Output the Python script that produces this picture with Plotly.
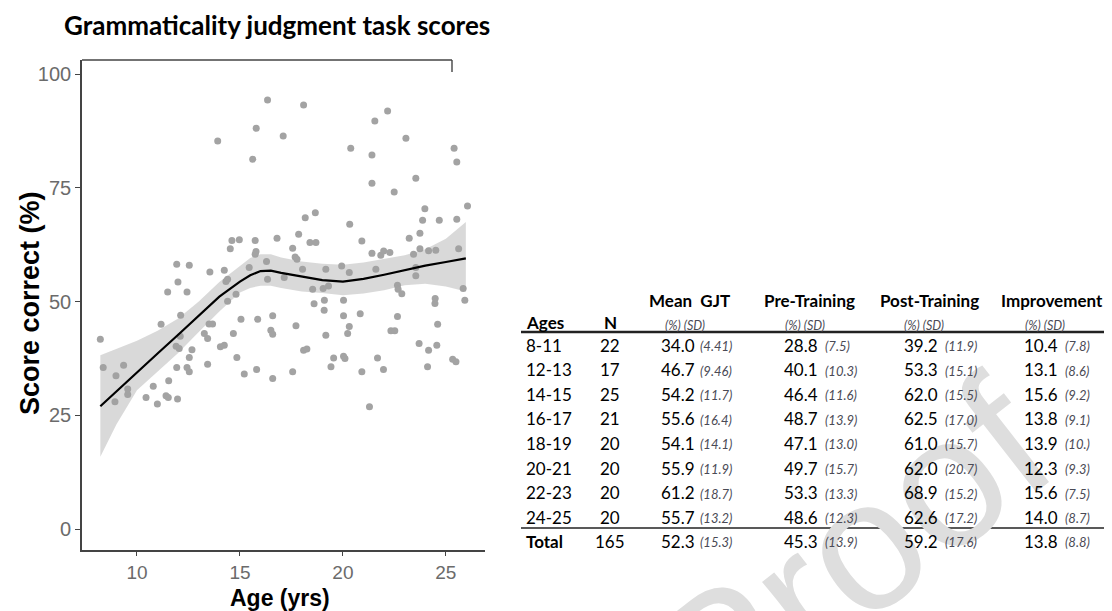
import plotly.graph_objects as go

# ---------------- data ----------------
age = [8.22, 8.36, 8.98, 9.35, 8.93, 9.55, 9.55, 10.44, 10.79, 10.99, 11.41, 11.52, 11.54, 11.17,
       11.49, 11.93, 11.99, 11.97, 11.93, 11.90, 12.05, 12.10, 12.12, 12.43, 12.54, 12.43, 12.54,
       12.54, 12.67, 13.27, 13.43, 13.50, 13.67, 13.43, 13.54, 13.92, 14.05, 14.24, 14.68, 14.40,
       14.85, 15.05, 15.21, 15.86, 15.81, 16.59, 16.50, 16.59, 16.59, 17.56, 17.72, 18.09, 18.25,
       18.60, 19.10, 19.09, 19.17, 19.42, 19.55, 20.03, 20.03, 20.03, 20.10, 20.23, 20.31, 20.84,
       20.92, 21.29, 21.68, 21.97, 22.33, 22.52, 22.65, 23.70, 24.16, 24.11, 24.47, 24.56, 24.60,
       25.33, 25.49, 25.92, 16.34, 18.09, 15.79, 17.10, 15.62, 20.38, 18.17, 18.66, 20.33, 14.61,
       14.97, 14.53, 15.74, 16.80, 17.85, 18.40, 18.69, 15.78, 15.74, 17.56, 17.68, 17.77, 14.24,
       16.29, 15.45, 14.40, 14.32, 16.34, 17.15, 18.04, 19.17, 19.94, 20.31, 14.81, 18.53, 19.04,
       19.30, 22.17, 21.55, 23.06, 21.41, 25.40, 25.53, 21.41, 23.54, 22.49, 23.98, 23.87, 24.68,
       25.53, 26.05, 20.92, 23.22, 23.74, 21.41, 21.84, 21.98, 22.28, 23.43, 23.74, 24.16, 24.51,
       25.62, 21.60, 23.54, 23.54, 22.65, 22.68, 22.86, 25.84, 24.48]
score = [41.7, 35.5, 33.7, 36.0, 28.0, 30.8, 29.6, 28.9, 31.4, 27.5, 29.3, 28.9, 32.6, 45.0,
         52.1, 58.2, 54.3, 28.6, 35.5, 40.2, 39.7, 42.4, 47.0, 52.1, 58.0, 35.5, 34.6,
         37.7, 39.4, 43.0, 41.9, 45.1, 45.1, 36.2, 56.5, 85.3, 40.1, 40.4, 43.0, 50.1,
         37.7, 46.1, 34.1, 46.1, 35.1, 46.9, 43.7, 42.8, 33.1, 34.6, 44.7, 39.3, 39.6,
         49.5, 50.3, 48.1, 42.6, 35.7, 37.6, 50.3, 46.9, 38.0, 37.5, 43.0, 44.5, 47.3,
         34.6, 26.9, 37.6, 35.1, 43.6, 43.6, 46.7, 40.8, 39.3, 35.7, 49.6, 40.4, 45.0,
         37.3, 36.8, 50.3, 94.3, 93.2, 88.1, 86.4, 81.3, 83.7, 68.4, 69.5, 67.0, 63.4,
         63.6, 61.6, 63.4, 63.9, 64.8, 63.0, 63.0, 61.0, 60.4, 61.7, 59.8, 59.3, 56.9,
         58.8, 57.5, 54.9, 54.4, 54.9, 55.3, 57.1, 57.1, 57.8, 56.4, 51.6, 52.7, 52.9,
         53.4, 91.9, 89.7, 85.9, 82.2, 83.7, 80.7, 76.0, 77.1, 74.1, 70.4, 67.9, 67.9,
         68.1, 71.0, 63.3, 63.9, 65.0, 60.6, 60.2, 61.1, 60.8, 60.4, 61.6, 61.2, 61.3,
         61.6, 57.1, 57.5, 55.7, 53.6, 52.7, 51.7, 52.9, 50.7]

# smoothed curve and its confidence band
smooth_age = [8.22, 9, 10, 11, 12, 13, 14, 15, 15.5, 16, 16.5, 17, 18, 19, 20, 21, 22, 23, 24, 25, 25.97]
smooth_fit = [27.0, 30.3, 34.4, 38.6, 42.7, 46.9, 51.1, 54.4, 55.8, 56.7, 56.8, 56.3, 55.5, 54.7, 54.4,
              55.0, 55.9, 56.9, 57.9, 58.7, 59.5]
smooth_hi = [38.2, 39.6, 41.4, 43.6, 46.3, 50.0, 54.3, 57.8, 59.6, 60.4, 60.4, 59.7, 58.8, 58.3, 58.1,
             58.6, 59.4, 60.2, 61.5, 63.8, 67.5]
smooth_lo = [15.9, 23.0, 30.5, 34.5, 38.7, 43.3, 47.8, 52.0, 53.0, 53.5, 53.5, 53.0, 52.2, 51.9, 51.4,
             51.8, 52.5, 53.6, 53.9, 53.3, 52.2]

y_ticks = [0, 25, 50, 75, 100]
x_ticks = [10, 15, 20, 25]

# table
age_groups = ["8-11", "12-13", "14-15", "16-17", "18-19", "20-21", "22-23", "24-25"]
n_group = [22, 17, 25, 21, 20, 20, 20, 20]
mean_gjt = ["34.0", "46.7", "54.2", "55.6", "54.1", "55.9", "61.2", "55.7"]
mean_sd = ["4.41", "9.46", "11.7", "16.4", "14.1", "11.9", "18.7", "13.2"]
pre_train = ["28.8", "40.1", "46.4", "48.7", "47.1", "49.7", "53.3", "48.6"]
pre_sd = ["7.5", "10.3", "11.6", "13.9", "13.0", "15.7", "13.3", "12.3"]
post_train = ["39.2", "53.3", "62.0", "62.5", "61.0", "62.0", "68.9", "62.6"]
post_sd = ["11.9", "15.1", "15.5", "17.0", "15.7", "20.7", "15.2", "17.2"]
improvement = ["10.4", "13.1", "15.6", "13.8", "13.9", "12.3", "15.6", "14.0"]
impr_sd = ["7.8", "8.6", "9.2", "9.1", "10.", "9.3", "7.5", "8.7"]
total_n = "165"
total_vals = ["52.3", "45.3", "59.2", "13.8"]
total_sds = ["15.3", "13.9", "17.6", "8.8"]
col_headers = ["Mean  GJT", "Pre-Training", "Post-Training", "Improvement"]

# ---------------- layout helpers ----------------
# page body has an 8px margin, so the figure is drawn 8px smaller and offset
OFF = 8
W_REF, H_REF = 1112, 611
L, R, T, B = 82, 485, 60, 550   # plot area in reference pixels


def fx(p):
    return (p - L) / (R - L)


def fy(p):
    return (B - p) / (B - T)


FONT_T = "Lato"
fig = go.Figure()

fig.add_trace(go.Scatter(x=age, y=score, mode="markers",
                         marker=dict(size=7, color="#a3a3a3"), hoverinfo="skip", showlegend=False))
fig.add_trace(go.Scatter(x=smooth_age, y=smooth_lo, mode="lines", line=dict(width=0),
                         hoverinfo="skip", showlegend=False))
fig.add_trace(go.Scatter(x=smooth_age, y=smooth_hi, mode="lines", line=dict(width=0),
                         fill="tonexty", fillcolor="rgba(160,160,160,0.4)",
                         hoverinfo="skip", showlegend=False))
fig.add_trace(go.Scatter(x=smooth_age, y=smooth_fit, mode="lines",
                         line=dict(color="black", width=2.2), hoverinfo="skip", showlegend=False))

ann = []
# watermark
ann.append(dict(text="Proof", xref="paper", yref="paper", x=fx(850), y=fy(556),
                xanchor="center", yanchor="middle", showarrow=False, textangle=-38,
                font=dict(family="Liberation Sans", size=185, color="#dedede")))

# title
ann.append(dict(text="<b>Grammaticality judgment task scores</b>", xref="paper", yref="paper",
                x=fx(62), y=fy(25), xanchor="left", yanchor="middle", showarrow=False,
                font=dict(family=FONT_T, size=26, color="black")))
# axis titles
ann.append(dict(text="<b>Age (yrs)</b>", xref="paper", yref="paper", x=fx(280), y=fy(598),
                xanchor="center", yanchor="middle", showarrow=False,
                font=dict(family="Liberation Sans", size=23, color="black")))
ann.append(dict(text="<b>Score correct (%)</b>", xref="paper", yref="paper", x=fx(30), y=fy(303),
                xanchor="center", yanchor="middle", showarrow=False, textangle=-90,
                font=dict(family="Liberation Sans", size=27, color="black")))

# table
hdr_centers = [689, 809, 929, 1052]
val_x = [659, 782, 902, 1022]
sd_x = [698, 823, 943, 1063]
pct_x = [663, 783, 902, 1023]
FS = 17
FS_SD = 13
SD_COL = "#4a4a55"


def t(text, x, y, anchor="left", size=FS, color="black", bold=False, italic=False):
    s = text
    if bold:
        s = "<b>" + s + "</b>"
    if italic:
        s = "<i>" + s + "</i>"
    ann.append(dict(text=s, xref="paper", yref="paper", x=fx(x), y=fy(y), xanchor=anchor,
                    yanchor="middle", showarrow=False,
                    font=dict(family=FONT_T, size=size, color=color)))


for h, cx in zip(col_headers, hdr_centers):
    t(h, cx, 300, anchor="center", bold=True, size=17)
t("Ages", 524, 322, bold=True, size=17)
t("N", 610, 322, anchor="center", bold=True, size=17)
for px_ in pct_x:
    t("(%) (SD)", px_, 325, size=12.5, color=SD_COL, italic=True)

row_y = [345 + i * 24.6 for i in range(len(age_groups))]
cols = [(mean_gjt, mean_sd), (pre_train, pre_sd), (post_train, post_sd), (improvement, impr_sd)]
for i, y in enumerate(row_y):
    t(age_groups[i], 524, y)
    t(str(n_group[i]), 610, y, anchor="center")
    for j, (vals, sds) in enumerate(cols):
        t(vals[i], val_x[j], y)
        t("(" + sds[i] + ")", sd_x[j], y + 1, size=FS_SD, color=SD_COL, italic=True)

yt = 541
t("Total", 524, yt, bold=True)
t(total_n, 610, yt, anchor="center")
for j in range(4):
    t(total_vals[j], val_x[j], yt)
    t("(" + total_sds[j] + ")", sd_x[j], yt + 1, size=FS_SD, color=SD_COL, italic=True)

shapes = [
    dict(type="line", xref="paper", yref="paper", x0=fx(521), x1=fx(1112), y0=fy(332), y1=fy(332),
         line=dict(color="#222", width=2.6)),
    dict(type="line", xref="paper", yref="paper", x0=fx(521), x1=fx(1112), y0=fy(528), y1=fy(528),
         line=dict(color="#222", width=1.6)),
    # partial frame at top of panel
    dict(type="line", xref="paper", yref="paper", x0=0, x1=fx(452), y0=1, y1=1,
         line=dict(color="#444", width=1.4)),
    dict(type="line", xref="paper", yref="paper", x0=fx(452), x1=fx(452), y0=1, y1=fy(72),
         line=dict(color="#444", width=1.4)),
]

fig.update_layout(
    width=W_REF - OFF, height=H_REF - OFF,
    margin=dict(l=L - OFF, r=W_REF - R, t=T - OFF, b=H_REF - B),
    paper_bgcolor="white", plot_bgcolor="white",
    annotations=ann, shapes=shapes,
    xaxis=dict(range=[7.33, 26.9], tickvals=x_ticks, showgrid=False, zeroline=False,
               showline=True, linecolor="#444", linewidth=1.6, ticks="outside", ticklen=4,
               tickcolor="#444", tickfont=dict(family="Liberation Sans", size=19, color="#6b6b6b")),
    yaxis=dict(range=[-4.6, 103.1], tickvals=y_ticks, showgrid=False, zeroline=False,
               showline=True, linecolor="#444", linewidth=1.6, ticks="outside", ticklen=5,
               tickcolor="#444", tickfont=dict(family="Liberation Sans", size=20, color="#6b6b6b")),
)

fig.write_html("out.html")
